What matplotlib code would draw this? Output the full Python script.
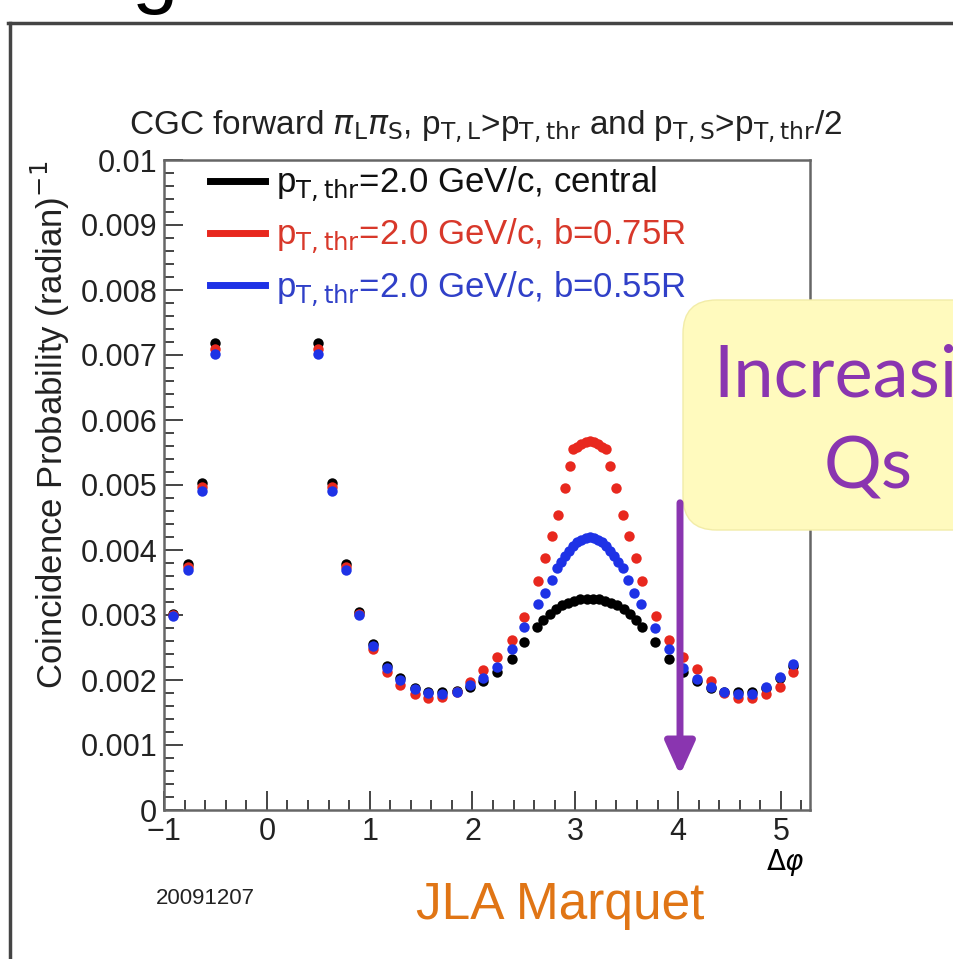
import numpy as np
import matplotlib.pyplot as plt
from matplotlib.lines import Line2D
from matplotlib.patches import FancyBboxPatch, FancyArrowPatch
from matplotlib.ticker import MultipleLocator, FixedLocator, FixedFormatter

plt.rcParams['font.family'] = ['Liberation Sans', 'DejaVu Sans']
plt.rcParams['mathtext.fontset'] = 'dejavusans'

# Data (y in units of 1e-3)
x_central = [-0.91, -0.77, -0.63, -0.50, 0.50, 0.63, 0.77, 0.90, 1.03, 1.17, 1.30, 1.44, 1.57,
             1.70, 1.85, 1.98, 2.10, 2.24, 2.38, 2.50, 2.63, 2.69, 2.75, 2.81, 2.87, 2.93, 2.99,
             3.05, 3.11, 3.17, 3.23, 3.29, 3.35, 3.41, 3.47, 3.53, 3.59, 3.65, 3.78, 3.91, 4.05,
             4.18, 4.32, 4.45, 4.58, 4.72, 4.86, 4.99, 5.12]
y_central = [3.02, 3.78, 5.03, 7.18, 7.18, 5.03, 3.78, 3.04, 2.55, 2.22, 2.03, 1.88, 1.82,
             1.81, 1.83, 1.90, 1.99, 2.12, 2.32, 2.58, 2.81, 2.92, 3.01, 3.09, 3.15, 3.19, 3.22,
             3.24, 3.24, 3.24, 3.24, 3.22, 3.19, 3.15, 3.09, 3.01, 2.92, 2.81, 2.58, 2.32, 2.12,
             1.98, 1.88, 1.82, 1.81, 1.82, 1.88, 2.03, 2.22]

x_b075 = [-0.91, -0.77, -0.63, -0.50, 0.50, 0.63, 0.77, 0.90, 1.03, 1.17, 1.30, 1.44, 1.57,
          1.70, 1.85, 1.98, 2.10, 2.24, 2.38, 2.50, 2.64, 2.71, 2.77, 2.83, 2.90, 2.95, 2.98,
          3.02, 3.06, 3.10, 3.14, 3.18, 3.22, 3.26, 3.30, 3.34, 3.40, 3.46, 3.52, 3.59, 3.65,
          3.79, 3.91, 4.05, 4.18, 4.32, 4.45, 4.58, 4.72, 4.86, 4.99, 5.12]
y_b075 = [3.00, 3.74, 4.97, 7.10, 7.10, 4.97, 3.74, 3.02, 2.47, 2.13, 1.92, 1.78, 1.73,
          1.74, 1.81, 1.97, 2.15, 2.36, 2.62, 2.97, 3.52, 3.88, 4.22, 4.54, 4.95, 5.29, 5.55,
          5.59, 5.63, 5.66, 5.68, 5.66, 5.63, 5.59, 5.55, 5.29, 4.95, 4.54, 4.22, 3.88, 3.52,
          2.98, 2.62, 2.35, 2.17, 1.98, 1.80, 1.73, 1.72, 1.79, 1.89, 2.12]

x_b055 = [-0.91, -0.77, -0.63, -0.50, 0.50, 0.63, 0.77, 0.90, 1.03, 1.17, 1.30, 1.44, 1.57,
          1.70, 1.85, 1.98, 2.10, 2.24, 2.38, 2.50, 2.64, 2.71, 2.77, 2.82, 2.86, 2.90, 2.94,
          2.98, 3.02, 3.06, 3.10, 3.14, 3.18, 3.22, 3.26, 3.30, 3.34, 3.38, 3.42, 3.46, 3.51,
          3.57, 3.64, 3.78, 3.91, 4.05, 4.18, 4.32, 4.45, 4.58, 4.72, 4.86, 4.99, 5.12]
y_b055 = [2.98, 3.70, 4.90, 7.02, 7.02, 4.90, 3.70, 3.00, 2.52, 2.19, 2.00, 1.86, 1.80,
          1.79, 1.81, 1.92, 2.03, 2.20, 2.47, 2.82, 3.17, 3.34, 3.54, 3.73, 3.82, 3.91, 3.99,
          4.06, 4.12, 4.16, 4.19, 4.20, 4.19, 4.16, 4.12, 4.06, 3.99, 3.91, 3.82, 3.73, 3.54,
          3.34, 3.17, 2.80, 2.48, 2.19, 2.02, 1.90, 1.82, 1.79, 1.79, 1.89, 2.04, 2.24]

labels = [r'p$_{\rm T,thr}$=2.0 GeV/c, central',
          r'p$_{\rm T,thr}$=2.0 GeV/c, b=0.75R',
          r'p$_{\rm T,thr}$=2.0 GeV/c, b=0.55R']
colors = ['#000000', '#e8281e', '#1e32e6']
text_colors = ['#111111', '#d8382a', '#3040c8']
ytick_vals = [0, 0.001, 0.002, 0.003, 0.004, 0.005, 0.006, 0.007, 0.008, 0.009, 0.01]
ytick_labels = ['0', '0.001', '0.002', '0.003', '0.004', '0.005', '0.006', '0.007',
                '0.008', '0.009', '0.01']
xtick_vals = [-1, 0, 1, 2, 3, 4, 5]
xtick_labels = ['\u22121', '0', '1', '2', '3', '4', '5']

W, H = 954, 959
fig = plt.figure(figsize=(W / 100, H / 100), dpi=100)
ax = fig.add_axes([164 / W, 1 - 810 / H, 646 / W, 650 / H])

series = [(x_central, y_central), (x_b075, y_b075), (x_b055, y_b055)]
for (xs, ys), c in zip(series, colors):
    ax.plot(xs, np.array(ys) * 1e-3, 'o', ms=7.5, color=c, mec='none', zorder=3)

ax.set_xlim(-1, 2 * np.pi - 1)
ax.set_ylim(0, 0.01)
ax.xaxis.set_major_locator(FixedLocator(xtick_vals))
ax.xaxis.set_major_formatter(FixedFormatter(xtick_labels))
ax.xaxis.set_minor_locator(MultipleLocator(0.2))
ax.yaxis.set_major_locator(FixedLocator(ytick_vals))
ax.yaxis.set_major_formatter(FixedFormatter(ytick_labels))
ax.yaxis.set_minor_locator(MultipleLocator(0.0002))
ax.tick_params(which='both', direction='in', colors='#444444', labelcolor='#222222',
               labelsize=22, width=1.4)
ax.tick_params(which='major', length=14, pad=5)
ax.tick_params(which='minor', length=7)
for sp in ax.spines.values():
    sp.set_color('#666666')
    sp.set_linewidth(1.8)

ax.set_ylabel(r'Coincidence Probability (radian)$^{-1}$', fontsize=25, color='#222222')
ax.yaxis.set_label_coords(-0.142, 0.592)

handles = [Line2D([0], [0], color=c, lw=5) for c in colors]
ax.legend(handles, labels, loc='upper left', bbox_to_anchor=(0.071, 0.993), frameon=False,
          fontsize=25, handlelength=1.6, handletextpad=0.3, labelspacing=0.38,
          borderaxespad=0, borderpad=0, labelcolor=text_colors)

fig.text(486 / W, 1 - 127 / H,
         r'CGC forward $\pi_{\rm L}\pi_{\rm S}$, p$_{\rm T,L}$>p$_{\rm T,thr}$ and '
         r'p$_{\rm T,S}$>p$_{\rm T,thr}$/2',
         ha='center', va='center', fontsize=24, color='#222222')
fig.text(785 / W, 1 - 862 / H, r'$\Delta\varphi$', ha='center', va='center', fontsize=20)
fig.text(205 / W, 1 - 898 / H, '20091207', ha='center', va='center', fontsize=16,
         color='#222222')
fig.text(560 / W, 1 - 905 / H, 'JLA Marquet', ha='center', va='center', fontsize=37,
         color='#e07515')

# slide frame and fragment of the slide title above
fig.add_artist(Line2D([8 / W, 1], [1 - 23 / H] * 2, color='#444444', lw=2.5))
fig.add_artist(Line2D([10 / W] * 2, [0, 1 - 23 / H], color='#444444', lw=2.5))
fig.text(155 / W, 1 + 2 / H, 'g', ha='center', va='baseline', fontsize=60, color='black')

# yellow call-out box and purple arrow
box = FancyBboxPatch((683 / W, 1 - 530 / H), 0.4, 230 / H,
                     boxstyle='round,pad=0,rounding_size=0.035',
                     transform=fig.transFigure, fc='#fffabe', ec='#f2eca8', lw=1, zorder=5)
fig.add_artist(box)
fig.text(713 / W, 1 - 397 / H, 'Increasing', ha='left', va='baseline', fontsize=52,
         color='#8a35b0', family=['Lato', 'DejaVu Sans'], zorder=6)
fig.text(868 / W, 1 - 488 / H, 'Qs', ha='center', va='baseline', fontsize=52,
         color='#8a35b0', family=['Lato', 'DejaVu Sans'], zorder=6)
arrow = FancyArrowPatch((680 / W, 1 - 500 / H), (680 / W, 1 - 778 / H),
                        transform=fig.transFigure,
                        arrowstyle='-|>,head_length=1.0,head_width=0.45',
                        mutation_scale=20, lw=5, color='#8a35b0', zorder=7)
fig.add_artist(arrow)

fig.savefig('out.png', dpi=100)
